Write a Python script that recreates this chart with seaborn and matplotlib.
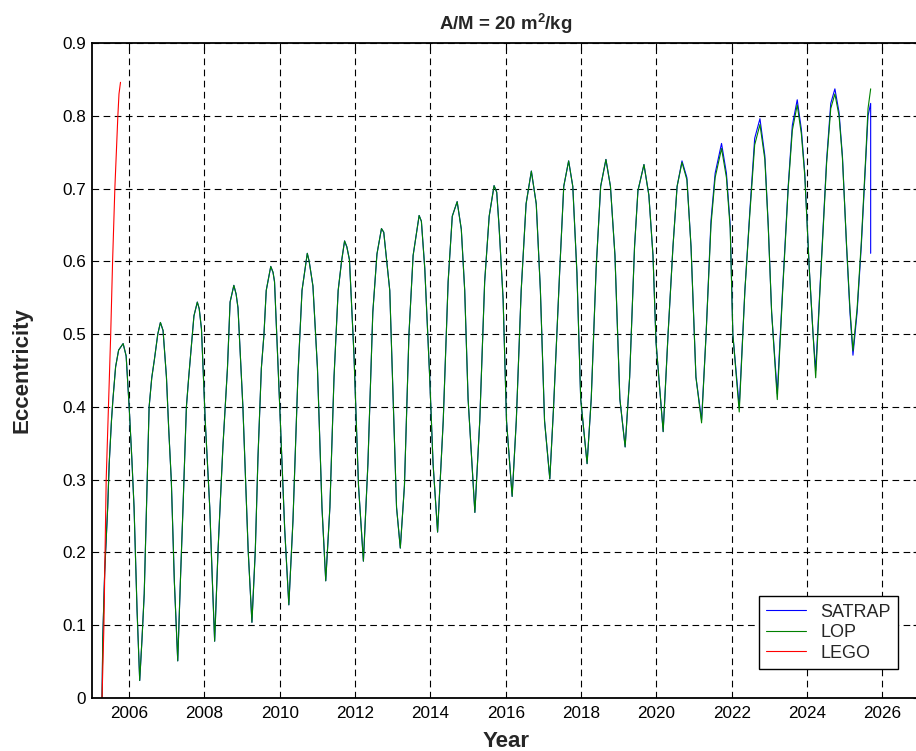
import matplotlib
matplotlib.use("Agg")
import matplotlib.pyplot as plt
import seaborn as sns
import numpy as np

# ---------------- data ----------------
years = [2005.28, 2005.30, 2005.35, 2005.43, 2005.47, 2005.53, 2005.57, 2005.64, 2005.72, 2005.84,
         2005.92, 2006.00, 2006.07, 2006.13, 2006.21, 2006.28, 2006.34, 2006.40, 2006.47, 2006.53,
         2006.60, 2006.67, 2006.76, 2006.83, 2006.90, 2006.99, 2007.05, 2007.12, 2007.20, 2007.29,
         2007.36, 2007.43, 2007.52, 2007.58, 2007.64, 2007.72, 2007.81, 2007.86, 2007.92, 2008.02,
         2008.14, 2008.21, 2008.27, 2008.36, 2008.43, 2008.49, 2008.55, 2008.61, 2008.68, 2008.78,
         2008.84, 2008.89, 2009.02, 2009.09, 2009.16, 2009.26, 2009.35, 2009.42, 2009.51, 2009.58,
         2009.64, 2009.76, 2009.82, 2009.86, 2009.99, 2010.06, 2010.13, 2010.24, 2010.35, 2010.48,
         2010.59, 2010.73, 2010.78, 2010.88, 2011.00, 2011.12, 2011.22, 2011.33, 2011.44, 2011.55,
         2011.64, 2011.72, 2011.78, 2011.85, 2011.97, 2012.09, 2012.22, 2012.34, 2012.47, 2012.58,
         2012.70, 2012.76, 2012.92, 2013.01, 2013.10, 2013.20, 2013.31, 2013.43, 2013.54, 2013.70,
         2013.76, 2013.85, 2013.98, 2014.07, 2014.19, 2014.34, 2014.47, 2014.58, 2014.71, 2014.82,
         2014.91, 2015.00, 2015.18, 2015.31, 2015.44, 2015.56, 2015.69, 2015.76, 2015.82, 2015.93,
         2016.02, 2016.17, 2016.28, 2016.41, 2016.54, 2016.68, 2016.81, 2016.92, 2017.03, 2017.17,
         2017.27, 2017.43, 2017.54, 2017.67, 2017.78, 2017.89, 2017.99, 2018.16, 2018.27, 2018.40,
         2018.52, 2018.66, 2018.78, 2018.90, 2019.03, 2019.17, 2019.29, 2019.42, 2019.51, 2019.67,
         2019.80, 2019.91, 2019.99, 2020.18, 2020.31, 2020.44, 2020.55, 2020.68, 2020.81, 2020.92,
         2021.05, 2021.20, 2021.32, 2021.45, 2021.56, 2021.73, 2021.86, 2021.96, 2022.03, 2022.20,
         2022.35, 2022.48, 2022.61, 2022.75, 2022.88, 2022.97, 2023.06, 2023.21, 2023.35, 2023.50,
         2023.61, 2023.74, 2023.85, 2023.94, 2024.06, 2024.16, 2024.23, 2024.34, 2024.52, 2024.63,
         2024.74, 2024.85, 2024.94, 2025.05, 2025.14, 2025.22, 2025.33, 2025.44, 2025.56, 2025.62,
         2025.69]

satrap_ecc = [0.000, 0.083, 0.173, 0.262, 0.322, 0.381, 0.411, 0.455, 0.478, 0.487,
              0.470, 0.400, 0.330, 0.262, 0.120, 0.024, 0.080, 0.143, 0.280, 0.400,
              0.440, 0.465, 0.500, 0.516, 0.505, 0.441, 0.370, 0.298, 0.160, 0.051,
              0.160, 0.262, 0.400, 0.440, 0.477, 0.525, 0.544, 0.535, 0.507, 0.381,
              0.262, 0.160, 0.078, 0.203, 0.280, 0.346, 0.400, 0.453, 0.544, 0.567,
              0.555, 0.536, 0.400, 0.300, 0.203, 0.104, 0.203, 0.330, 0.453, 0.500,
              0.560, 0.593, 0.585, 0.572, 0.411, 0.320, 0.232, 0.128, 0.244, 0.441,
              0.560, 0.611, 0.600, 0.566, 0.453, 0.262, 0.161, 0.262, 0.441, 0.560,
              0.600, 0.628, 0.620, 0.602, 0.471, 0.292, 0.188, 0.322, 0.530, 0.610,
              0.645, 0.640, 0.560, 0.411, 0.262, 0.206, 0.292, 0.500, 0.608, 0.663,
              0.655, 0.590, 0.441, 0.322, 0.228, 0.381, 0.572, 0.662, 0.682, 0.644,
              0.560, 0.411, 0.255, 0.381, 0.572, 0.662, 0.704, 0.695, 0.650, 0.548,
              0.381, 0.277, 0.381, 0.560, 0.679, 0.724, 0.679, 0.560, 0.381, 0.301,
              0.400, 0.584, 0.703, 0.738, 0.703, 0.584, 0.411, 0.322, 0.411, 0.590,
              0.703, 0.740, 0.703, 0.608, 0.411, 0.345, 0.441, 0.620, 0.697, 0.733,
              0.691, 0.608, 0.489, 0.366, 0.500, 0.620, 0.703, 0.738, 0.715, 0.620,
              0.441, 0.382, 0.500, 0.656, 0.721, 0.762, 0.721, 0.650, 0.500, 0.400,
              0.560, 0.668, 0.769, 0.796, 0.745, 0.650, 0.530, 0.418, 0.560, 0.703,
              0.787, 0.822, 0.781, 0.721, 0.590, 0.500, 0.450, 0.560, 0.739, 0.817,
              0.837, 0.805, 0.745, 0.620, 0.530, 0.471, 0.530, 0.620, 0.739, 0.800,
              0.817]
satrap_end_year = [2025.69]
satrap_end_ecc = [0.611]

lop_ecc = [0.000, 0.083, 0.173, 0.262, 0.322, 0.381, 0.411, 0.455, 0.478, 0.487,
           0.470, 0.400, 0.330, 0.262, 0.120, 0.024, 0.080, 0.143, 0.280, 0.400,
           0.440, 0.465, 0.500, 0.516, 0.505, 0.441, 0.370, 0.298, 0.160, 0.051,
           0.160, 0.262, 0.400, 0.440, 0.477, 0.525, 0.544, 0.535, 0.507, 0.381,
           0.262, 0.160, 0.078, 0.203, 0.280, 0.346, 0.400, 0.453, 0.544, 0.567,
           0.555, 0.536, 0.400, 0.300, 0.203, 0.104, 0.203, 0.330, 0.453, 0.500,
           0.560, 0.593, 0.585, 0.572, 0.411, 0.320, 0.232, 0.128, 0.244, 0.441,
           0.560, 0.611, 0.600, 0.566, 0.453, 0.262, 0.161, 0.262, 0.441, 0.560,
           0.600, 0.628, 0.620, 0.602, 0.471, 0.292, 0.188, 0.322, 0.530, 0.610,
           0.645, 0.640, 0.560, 0.411, 0.262, 0.206, 0.292, 0.500, 0.608, 0.663,
           0.655, 0.590, 0.441, 0.322, 0.228, 0.381, 0.572, 0.662, 0.682, 0.644,
           0.560, 0.411, 0.255, 0.381, 0.572, 0.662, 0.704, 0.695, 0.650, 0.548,
           0.381, 0.277, 0.381, 0.560, 0.679, 0.724, 0.679, 0.560, 0.381, 0.301,
           0.400, 0.584, 0.703, 0.738, 0.703, 0.584, 0.411, 0.322, 0.411, 0.590,
           0.703, 0.740, 0.703, 0.608, 0.411, 0.345, 0.441, 0.620, 0.697, 0.733,
           0.691, 0.608, 0.489, 0.366, 0.500, 0.620, 0.703, 0.736, 0.712, 0.620,
           0.441, 0.378, 0.500, 0.650, 0.715, 0.755, 0.715, 0.645, 0.500, 0.393,
           0.560, 0.664, 0.760, 0.788, 0.740, 0.648, 0.530, 0.410, 0.556, 0.700,
           0.780, 0.815, 0.775, 0.718, 0.590, 0.500, 0.440, 0.556, 0.735, 0.810,
           0.830, 0.800, 0.742, 0.622, 0.535, 0.477, 0.535, 0.625, 0.745, 0.810,
           0.837]

lego_year = [2005.28, 2005.33, 2005.36, 2005.39, 2005.45, 2005.51, 2005.56, 2005.62, 2005.70, 2005.73, 2005.77]
lego_ecc = [0.000, 0.100, 0.200, 0.300, 0.400, 0.500, 0.600, 0.700, 0.800, 0.830, 0.846]

xticks = [2006, 2008, 2010, 2012, 2014, 2016, 2018, 2020, 2022, 2024, 2026]
yticks = [0, 0.1, 0.2, 0.3, 0.4, 0.5, 0.6, 0.7, 0.8, 0.9]
ytick_labels = ["0", "0.1", "0.2", "0.3", "0.4", "0.5", "0.6", "0.7", "0.8", "0.9"]

# ---------------- style ----------------
sns.set_style("white")
plt.rcParams['font.family'] = ['Liberation Sans', 'DejaVu Sans']
plt.rcParams['mathtext.fontset'] = 'custom'
plt.rcParams['mathtext.rm'] = 'Liberation Sans'
plt.rcParams['mathtext.bf'] = 'Liberation Sans:bold'

fig = plt.figure(figsize=(9.16, 7.51), dpi=100)
ax = fig.add_axes([91.5 / 916, 53 / 751, (920 - 91.5) / 916, (698 - 43) / 751])

sat_x = years + satrap_end_year
sat_y = satrap_ecc + satrap_end_ecc
sns.lineplot(x=sat_x, y=sat_y, ax=ax, color=(0, 0, 1), lw=0.8, sort=False,
             estimator=None, label="SATRAP")
sns.lineplot(x=years, y=lop_ecc, ax=ax, color=(0, 0.5, 0), lw=0.8, sort=False,
             estimator=None, label="LOP")
sns.lineplot(x=lego_year, y=lego_ecc, ax=ax, color=(1, 0, 0), lw=0.8, sort=False,
             estimator=None, label="LEGO")

ax.set_xlim(2005, 2027)
ax.set_ylim(0, 0.9)
ax.set_xticks(xticks)
ax.set_xticklabels([str(t) for t in xticks])
ax.set_yticks(yticks)
ax.set_yticklabels(ytick_labels)

ax.grid(True, color='black', linestyle=(0, (6, 4)), linewidth=0.8)
ax.set_axisbelow(True)
ax.tick_params(direction='in', length=5, width=0.8, top=True, right=True,
               labelsize=12.3, colors='black')
ax.tick_params(axis='x', pad=6)
ax.tick_params(axis='y', pad=4)
for s in ax.spines.values():
    s.set_color('black')
    s.set_linewidth(1.3)

ax.set_xlabel("Year", fontsize=16, fontweight='bold', labelpad=7)
ax.set_ylabel("Eccentricity", fontsize=16, fontweight='bold', labelpad=21)
ax.set_title(r"A/M = 20 m$^\mathbf{2}$/kg", fontsize=13.4, fontweight='bold', pad=9)

leg = ax.legend(loc='lower right', bbox_to_anchor=(898 / 916, (751 - 669) / 751),
                bbox_transform=fig.transFigure, borderaxespad=0, fontsize=13,
                frameon=True, fancybox=False, edgecolor='black', framealpha=1,
                handlelength=2.2, handletextpad=0.8, borderpad=0.4, labelspacing=0.2)
leg.get_frame().set_linewidth(1.0)

fig.savefig("out.png", dpi=100)
